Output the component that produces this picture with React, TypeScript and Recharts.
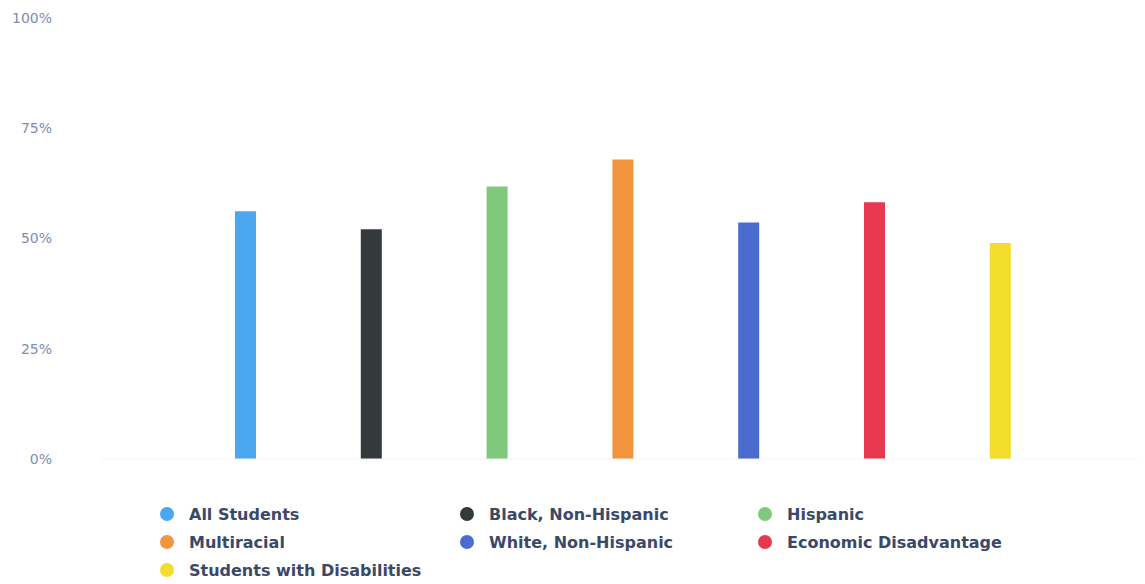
import { BarChart, Bar, XAxis, YAxis, Legend } from "recharts"

const GROUPS = ["All Groups"]
const SERIES = [
	"All Students",
	"Black, Non-Hispanic",
	"Hispanic",
	"Multiracial",
	"White, Non-Hispanic",
	"Economic Disadvantage",
	"Students with Disabilities",
]
const VALUES = [56.2, 52.1, 61.8, 67.9, 53.6, 58.2, 49.0]
const COLORS = ["#4ba8f0", "#343a3b", "#80c87c", "#f2953f", "#4a6bd0", "#e63950", "#f2dc2c"]
const Y_TICKS = [0, 25, 50, 75, 100]

const data = GROUPS.map((g) => {
	const row: Record<string, string | number> = { group: g }
	SERIES.forEach((_, i) => {
		row[`s${i}`] = VALUES[i]
	})
	return row
})

const LEGEND_TEXT = "#3b4867"
const AXIS_TICK = { fill: "#7d8db2", fontSize: 14, fontFamily: "DejaVu Sans" }

function LegendGrid() {
	return (
		<div
			style={{
				display: "grid",
				gridTemplateColumns: "300px 298px 300px",
				gridAutoRows: "28px",
				paddingLeft: 152,
				height: 84,
				boxSizing: "border-box",
			}}
		>
			{SERIES.map((name, i) => (
				<div key={name} style={{ display: "flex", alignItems: "center" }}>
					<span
						style={{
							width: 14,
							height: 14,
							borderRadius: "50%",
							background: COLORS[i],
							display: "inline-block",
							marginRight: 15,
						}}
					/>
					<span
						style={{
							fontFamily: "DejaVu Sans",
							fontWeight: 700,
							fontSize: 16,
							color: LEGEND_TEXT,
							whiteSpace: "nowrap",
						}}
					>
						{name}
					</span>
				</div>
			))}
		</div>
	)
}

export default function App() {
	return (
		<BarChart
			width={1137}
			height={576}
			data={data}
			margin={{ top: 10, right: 0, bottom: 0, left: 0 }}
			barSize={21}
			barGap={104.8}
		>
			<XAxis dataKey="group" tick={false} tickLine={false} height={41} stroke="#f2f3f6" />
			<YAxis
				domain={[0, 100]}
				ticks={Y_TICKS}
				tickFormatter={(v: number) => `${v}%`}
				axisLine={false}
				tickLine={false}
				width={93}
				tickMargin={43}
				tick={AXIS_TICK}
			/>
			<Legend verticalAlign="bottom" content={<LegendGrid />} />
			{SERIES.map((name, i) => (
				<Bar key={name} dataKey={`s${i}`} name={name} fill={COLORS[i]} isAnimationActive={false} />
			))}
		</BarChart>
	)
}
